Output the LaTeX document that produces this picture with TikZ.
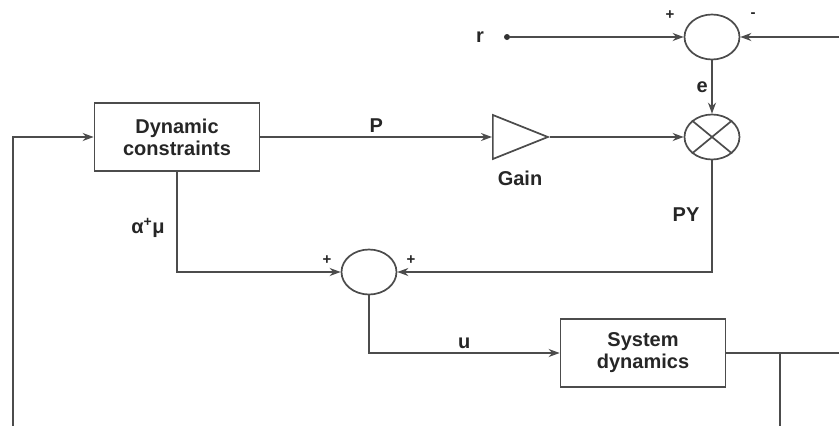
\documentclass[tikz,border=0pt]{standalone}
\usepackage{fontspec}
\setmainfont{Liberation Sans}
\usetikzlibrary{shapes.geometric,arrows.meta}

\begin{document}
\begin{tikzpicture}[x=1pt, y=-1pt, >={Stealth[length=11pt,width=8pt]},
  line/.style={draw=black!70, line width=1.7pt},
  blk/.style={draw=black!70, line width=1.7pt, minimum width=165pt, minimum height=68pt, align=center, font=\fontsize{20}{22}\selectfont\bfseries, text=black!85},
  sum/.style={ellipse, draw=black!70, line width=1.7pt, minimum width=55pt, minimum height=45pt, inner sep=0pt},
  amp/.style={isosceles triangle, isosceles triangle stretches, draw=black!70, line width=1.7pt, minimum width=44pt, minimum height=55pt, inner sep=0pt},
  lbl/.style={font=\fontsize{20}{22}\selectfont\bfseries, text=black!85},
  sgn/.style={font=\fontsize{15}{16}\selectfont\bfseries, text=black!85}]
  \useasboundingbox (0,0) rectangle (839,426);
  \node[sum] (sumtop) at (712,37) {};
  \node[sum] (mult) at (712,137) {};
  \node[sum] (sum2) at (369,272) {};
  \node[amp, anchor=lower side] (gain) at (492,137) {};
  \node[blk] (dc) at (177,137) {Dynamic\\constraints};
  \node[blk] (sd) at (643,353) {System\\dynamics};
  \node[circle, fill=black!80, inner sep=0pt, minimum size=6pt] (rdot) at (507,37) {};
  \node[lbl] (rtxt) at (480,37) {r};
  \node[lbl] (gaintxt) at (520,178) {Gain};
  \node[lbl] (alphatxt) at (148,228) {α\textsuperscript{+}μ};
  \node[lbl] (pytxt) at (686,215) {PY};
  \node[sgn] (ptop) at (670,15) {+};
  \node[sgn] (mtop) at (753,15) {-};
  \node[sgn] (pleft) at (327,260) {+};
  \node[sgn] (pright) at (411,260) {+};
  \coordinate (rin) at (839,37);
  \coordinate (out) at (839,353);
  \coordinate (br) at (780,353);
  \coordinate (brend) at (780,426);
  \coordinate (fb) at (13,426);
  \draw[line] (mult.north east) -- (mult.south west) (mult.north west) -- (mult.south east);
  \draw[line,->] (rdot) -- (sumtop.west);
  \draw[line,->] (rin) -- (sumtop.east);
  \draw[line,->] (sumtop) -- node[lbl,left] {e} (mult);
  \draw[line,->] (dc) -- node[lbl,above] {P} (gain);
  \draw[line,->] (gain.apex) -- (mult);
  \draw[line,->] (dc.south) |- (sum2.west);
  \draw[line,->] (mult.south) |- (sum2.east);
  \draw[line,->] (sum2.south) |- node[lbl,above,pos=0.75] {u} (sd.west);
  \draw[line,->] (fb) |- (dc.west);
  \draw[line] (sd.east) -- (out);
  \draw[line] (br) -- (brend);
\end{tikzpicture}
\end{document}
